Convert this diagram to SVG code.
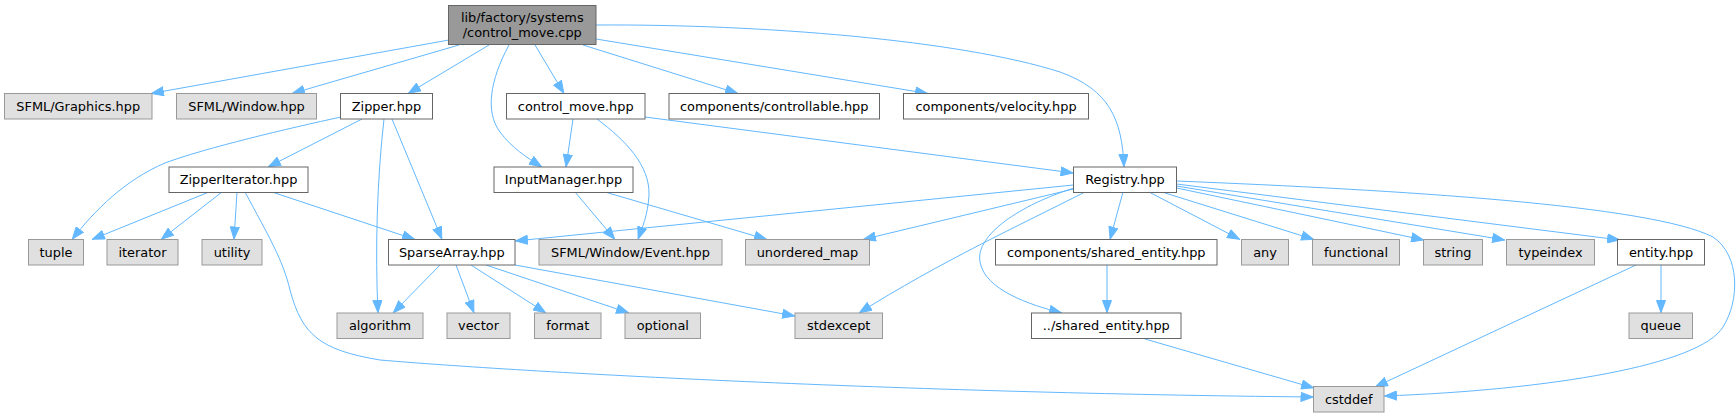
<svg xmlns="http://www.w3.org/2000/svg" width="1736" height="417" viewBox="0 0 1736 417">
<style>
.n rect{fill:#ffffff;stroke:#666666;stroke-width:1}
.x rect{fill:#e0e0e0;stroke:#999999;stroke-width:1}
.r rect{fill:#999999;stroke:#666666;stroke-width:1}
text{font-family:"DejaVu Sans","Liberation Sans",sans-serif;font-size:12.9px;fill:#000000;text-anchor:middle}
#edges path{fill:none;stroke:#63b8ff;stroke-width:1;marker-end:url(#arr)}
</style>
<defs>
<marker id="arr" markerUnits="userSpaceOnUse" markerWidth="13" markerHeight="10" refX="13" refY="5" orient="auto" viewBox="0 0 13 10">
<path d="M0.5,0.5 L12.5,5 L0.5,9.5 Z" fill="#63b8ff" stroke="#63b8ff" stroke-width="1"/>
</marker>
</defs>
<rect width="1736" height="417" fill="#ffffff"/>
<g id="edges">
<path d="M449,40 L151,93.5"/>
<path d="M459,45 L292,93.5"/>
<path d="M489,45 L408,93.5"/>
<path d="M509,45 C490,80 485,112 500,132 C512,148 526,157 542,167"/>
<path d="M535,45 L564,93.5"/>
<path d="M583,45 L738,93.5"/>
<path d="M596,39 L928,93.5"/>
<path d="M596,25 C760,24 960,40 1060,72 C1110,90 1122,120 1124,167"/>
<path d="M341,117 C290,128 205,148 165,163 C125,180 95,210 72,239.5"/>
<path d="M362,119 L268,167"/>
<path d="M384,119 C377,180 375,250 378,313"/>
<path d="M392,119 L442,239.5"/>
<path d="M209,192 L92,239.5"/>
<path d="M222,192 L161,239.5"/>
<path d="M237,192 L234,239.5"/>
<path d="M272,192 L415,239.5"/>
<path d="M245,192 C268,235 283,260 290,290 C302,335 320,350 380,360 C520,372 900,393 1313.5,397"/>
<path d="M573,119 L566,167"/>
<path d="M597,119 C625,140 650,165 649,195 C648,215 642,228 638,239.5"/>
<path d="M645,117 L1073.5,173"/>
<path d="M575,192 L615,239.5"/>
<path d="M605,192 L767,239.5"/>
<path d="M1073.5,185 L515,241"/>
<path d="M1073.5,189 L863,239.5"/>
<path d="M1085,192 C1020,225 940,262 859,313"/>
<path d="M1074,188 C1020,205 975,235 980,262 C985,290 1030,305 1062,313"/>
<path d="M1123,192 L1110,239.5"/>
<path d="M1149,192 L1240,239.5"/>
<path d="M1162,192 L1314,239.5"/>
<path d="M1176.5,188 L1424,240"/>
<path d="M1176.5,186 L1505,240"/>
<path d="M1176.5,184 L1620,240"/>
<path d="M1176.5,181 C1400,190 1650,205 1713,237 C1740,255 1740,300 1723,327 C1700,365 1550,390 1384,396"/>
<path d="M440,265 L393,313"/>
<path d="M456,265 L474,313"/>
<path d="M471,265 L546,313"/>
<path d="M486,265 L629,313"/>
<path d="M515,265 L795,316"/>
<path d="M1107,265 L1107,313"/>
<path d="M1145,339 L1314,388"/>
<path d="M1661,265 L1661,313"/>
<path d="M1636,265 L1375,387"/>
</g>
<g id="root" class="r"><rect x="448.5" y="5.5" width="147.5" height="39"/><text x="522.25" y="21.5">lib/factory/systems</text><text x="522.25" y="36.5">/control_move.cpp</text></g>
<g id="sfml_graphics" class="x"><rect x="4.5" y="93.5" width="147.5" height="25.5"/><text x="78.25" y="110.7">SFML/Graphics.hpp</text></g>
<g id="sfml_window" class="x"><rect x="176.5" y="93.5" width="140" height="25.5"/><text x="246.5" y="110.7">SFML/Window.hpp</text></g>
<g id="zipper" class="n"><rect x="340.5" y="93.5" width="92" height="25.5"/><text x="386.5" y="110.7">Zipper.hpp</text></g>
<g id="control_move" class="n"><rect x="506.5" y="93.5" width="138.5" height="25.5"/><text x="575.75" y="110.7">control_move.hpp</text></g>
<g id="controllable" class="n"><rect x="669" y="93.5" width="210.5" height="25.5"/><text x="774.25" y="110.7">components/controllable.hpp</text></g>
<g id="velocity" class="n"><rect x="903.5" y="93.5" width="185" height="25.5"/><text x="996" y="110.7">components/velocity.hpp</text></g>
<g id="zipper_iterator" class="n"><rect x="169" y="167" width="139" height="25.5"/><text x="238.5" y="184.2">ZipperIterator.hpp</text></g>
<g id="input_manager" class="n"><rect x="494" y="167" width="139" height="25.5"/><text x="563.5" y="184.2">InputManager.hpp</text></g>
<g id="registry" class="n"><rect x="1073.5" y="167" width="103" height="25.5"/><text x="1125" y="184.2">Registry.hpp</text></g>
<g id="tuple" class="x"><rect x="28.5" y="239.5" width="55" height="25.5"/><text x="56" y="256.7">tuple</text></g>
<g id="iterator" class="x"><rect x="107" y="239.5" width="71" height="25.5"/><text x="142.5" y="256.7">iterator</text></g>
<g id="utility" class="x"><rect x="202" y="239.5" width="60" height="25.5"/><text x="232" y="256.7">utility</text></g>
<g id="sparse_array" class="n"><rect x="388.5" y="239.5" width="126.5" height="25.5"/><text x="451.75" y="256.7">SparseArray.hpp</text></g>
<g id="event" class="x"><rect x="539" y="239.5" width="183" height="25.5"/><text x="630.5" y="256.7">SFML/Window/Event.hpp</text></g>
<g id="unordered_map" class="x"><rect x="745.5" y="239.5" width="124" height="25.5"/><text x="807.5" y="256.7">unordered_map</text></g>
<g id="comp_shared_entity" class="n"><rect x="995.5" y="239.5" width="221.5" height="25.5"/><text x="1106.25" y="256.7">components/shared_entity.hpp</text></g>
<g id="any" class="x"><rect x="1241.5" y="239.5" width="47" height="25.5"/><text x="1265" y="256.7">any</text></g>
<g id="functional" class="x"><rect x="1312.5" y="239.5" width="87" height="25.5"/><text x="1356" y="256.7">functional</text></g>
<g id="string" class="x"><rect x="1423.5" y="239.5" width="59" height="25.5"/><text x="1453" y="256.7">string</text></g>
<g id="typeindex" class="x"><rect x="1506.5" y="239.5" width="88" height="25.5"/><text x="1550.5" y="256.7">typeindex</text></g>
<g id="entity" class="n"><rect x="1617.5" y="239.5" width="87" height="25.5"/><text x="1661" y="256.7">entity.hpp</text></g>
<g id="algorithm" class="x"><rect x="337" y="313" width="86" height="25.5"/><text x="380" y="330.2">algorithm</text></g>
<g id="vector" class="x"><rect x="447" y="313" width="63" height="25.5"/><text x="478.5" y="330.2">vector</text></g>
<g id="format" class="x"><rect x="534.5" y="313" width="66.5" height="25.5"/><text x="567.75" y="330.2">format</text></g>
<g id="optional" class="x"><rect x="625" y="313" width="75.5" height="25.5"/><text x="662.75" y="330.2">optional</text></g>
<g id="stdexcept" class="x"><rect x="795" y="313" width="87.5" height="25.5"/><text x="838.75" y="330.2">stdexcept</text></g>
<g id="shared_entity" class="n"><rect x="1031.5" y="313" width="149.5" height="25.5"/><text x="1106.25" y="330.2">../shared_entity.hpp</text></g>
<g id="queue" class="x"><rect x="1629" y="313" width="63.5" height="25.5"/><text x="1660.75" y="330.2">queue</text></g>
<g id="cstddef" class="x"><rect x="1313.5" y="386.5" width="70.5" height="25.5"/><text x="1348.75" y="403.7">cstddef</text></g>
</svg>
